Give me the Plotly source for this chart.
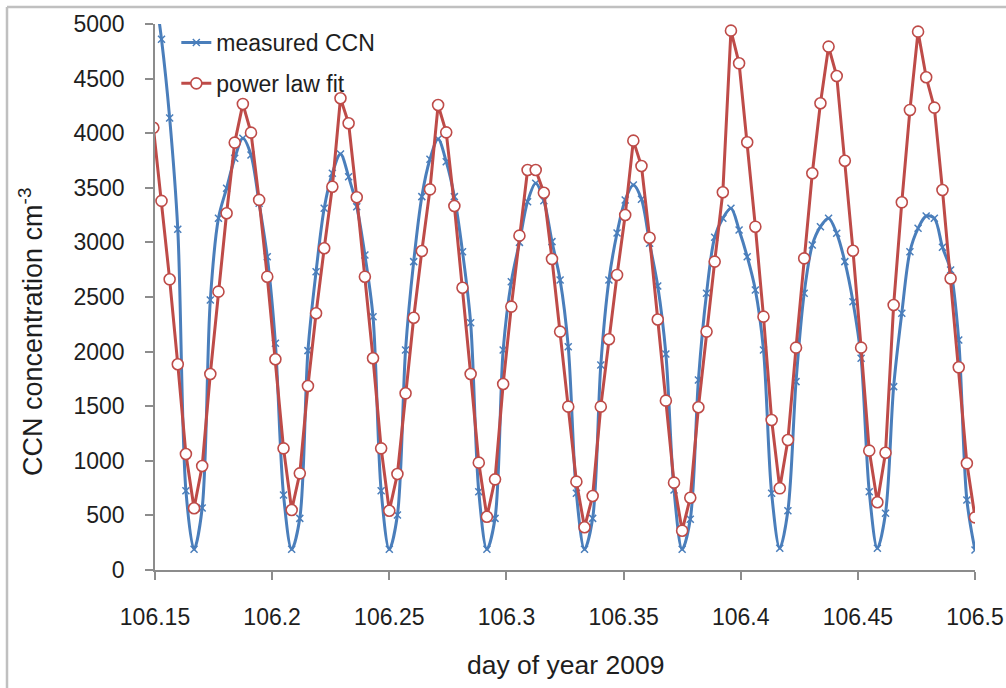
import numpy as np
import plotly.graph_objects as go

# sampling grid: every 5 minutes from 03:35 to 12:00 on day 106 of 2009
day = 106
start_min = 215   # 03:35
step_min = 5
n_pts = 102
time_doy = day + (start_min + step_min * np.arange(n_pts)) / 1440.0

measured_ccn = [
    5400, 4860, 4140, 3120, 726,
    190, 568, 2473, 3221, 3496, 3770, 3953, 3800, 3358, 2869, 2076, 687,
    190, 473, 2009, 2732, 3312, 3633, 3810, 3602, 3327, 2885, 2320, 726,
    190, 504, 2015, 2824, 3419, 3761, 3947, 3739, 3419, 2915, 2265, 717,
    190, 473, 2015, 2640, 3000, 3373, 3541, 3382, 3007, 2656, 2045, 702,
    190, 473, 1877, 2656, 3086, 3389, 3526, 3395, 2992, 2600, 1978, 733,
    190, 464, 1740, 2534, 3047, 3221, 3312, 3114, 2869, 2564, 2015, 702,
    200, 543, 1725, 2534, 2976, 3144, 3221, 3083, 2824, 2457, 1939, 717,
    199, 519, 1679, 2351, 2915, 3129, 3242, 3221, 2955, 2747, 2106, 641,
    183,
]

power_law_fit = [
    4050, 3380, 2662, 1884, 1062,
    565, 952, 1795, 2549, 3267, 3914, 4268, 4005, 3389, 2686, 1930, 1114,
    549, 885, 1685, 2351, 2946, 3510, 4320, 4091, 3413, 2686, 1939, 1114,
    543, 879, 1618, 2310, 2921, 3486, 4258, 4008, 3333, 2585, 1795, 983,
    488, 830, 1703, 2412, 3062, 3663, 3663, 3455, 2848, 2183, 1496, 809,
    391, 678, 1496, 2113, 2702, 3251, 3932, 3700, 3043, 2294, 1551, 800,
    360, 662, 1490, 2183, 2824, 3459, 4939, 4640, 3917, 3144, 2320, 1374,
    748, 1190, 2036, 2854, 3633, 4274, 4793, 4524, 3748, 2924, 2036, 1093,
    620, 1074, 2427, 3367, 4213, 4930, 4512, 4234, 3480, 2670, 1856, 977,
    482,
]

x_tickvals = [106.15, 106.2, 106.25, 106.3, 106.35, 106.4, 106.45, 106.5]
x_ticktext = ["106.15", "106.2", "106.25", "106.3", "106.35", "106.4", "106.45", "106.5"]
y_tickvals = [0, 500, 1000, 1500, 2000, 2500, 3000, 3500, 4000, 4500, 5000]

BLUE = "#4a7ebb"
RED = "#be4b48"
AXIS = "#8c8c8c"
TXT = "#1e1e1e"
FONT = "Liberation Sans, Arial, sans-serif"

fig = go.Figure()
fig.add_trace(go.Scatter(
    x=time_doy, y=measured_ccn, name="measured CCN", mode="lines+markers",
    legendgroup="a",
    line=dict(color=BLUE, width=3, shape="spline", smoothing=0.9),
    marker=dict(symbol="x-thin-open", size=7, color=BLUE, line=dict(color=BLUE, width=1.5)),
))
fig.add_trace(go.Scatter(
    x=time_doy, y=power_law_fit, name="power law fit", mode="lines+markers",
    legendgroup="b",
    line=dict(color=RED, width=3),
    marker=dict(symbol="circle", size=11, color="white", line=dict(color=RED, width=1.6)),
))

PW, PH = 820, 546
fig.update_layout(
    width=1006, height=688,
    margin=dict(l=155, r=31, t=24, b=118, autoexpand=False),
    paper_bgcolor="white", plot_bgcolor="white",
    font=dict(family=FONT, size=23, color=TXT),
    showlegend=True,
    legend=dict(x=0.026, y=1 + 3 / PH, xanchor="left", yanchor="top",
                font=dict(size=23, color=TXT), bgcolor="rgba(0,0,0,0)",
                itemwidth=30, tracegroupgap=8, traceorder="grouped"),
    xaxis=dict(range=[106.15, 106.5], tickvals=x_tickvals, ticktext=x_ticktext,
               showgrid=False, zeroline=False, showline=True, linecolor=AXIS, linewidth=1.5,
               ticks="outside", ticklen=8, tickcolor=AXIS, tickwidth=1.5,
               tickfont=dict(size=23, color=TXT), ticklabelstandoff=18,
               ticklabeloverflow="allow", automargin=False),
    yaxis=dict(range=[0, 5000], tickvals=y_tickvals,
               showgrid=False, zeroline=False, showline=True, linecolor=AXIS, linewidth=1.5,
               ticks="outside", ticklen=8, tickcolor=AXIS, tickwidth=1.5,
               tickfont=dict(size=23, color=TXT), ticklabelstandoff=16, automargin=False),
    annotations=[
        dict(text="day of year 2009", xref="paper", yref="paper", x=0.5, y=-95 / PH,
             xanchor="center", yanchor="middle", showarrow=False,
             font=dict(size=26.5, color=TXT, family=FONT)),
        dict(text="CCN concentration cm<sup>-3</sup>", xref="paper", yref="paper",
             x=-124 / PW, y=238 / PH, xanchor="center", yanchor="middle", textangle=-90,
             showarrow=False, font=dict(size=27, color=TXT, family=FONT)),
    ],
    shapes=[
        dict(type="line", xref="paper", yref="paper", x0=-148 / PW, x1=851 / PW,
             y0=1 + 17 / PH, y1=1 + 17 / PH, line=dict(color="#c0c0c0", width=2.5)),
        dict(type="line", xref="paper", yref="paper", x0=-148 / PW, x1=-148 / PW,
             y0=1 + 17 / PH, y1=-118 / PH, line=dict(color="#c0c0c0", width=2.5)),
    ],
)

fig.write_html(
    "out.html",
    config={"displayModeBar": False},
    post_script="document.body.style.margin='0';document.body.style.overflow='hidden';",
)
